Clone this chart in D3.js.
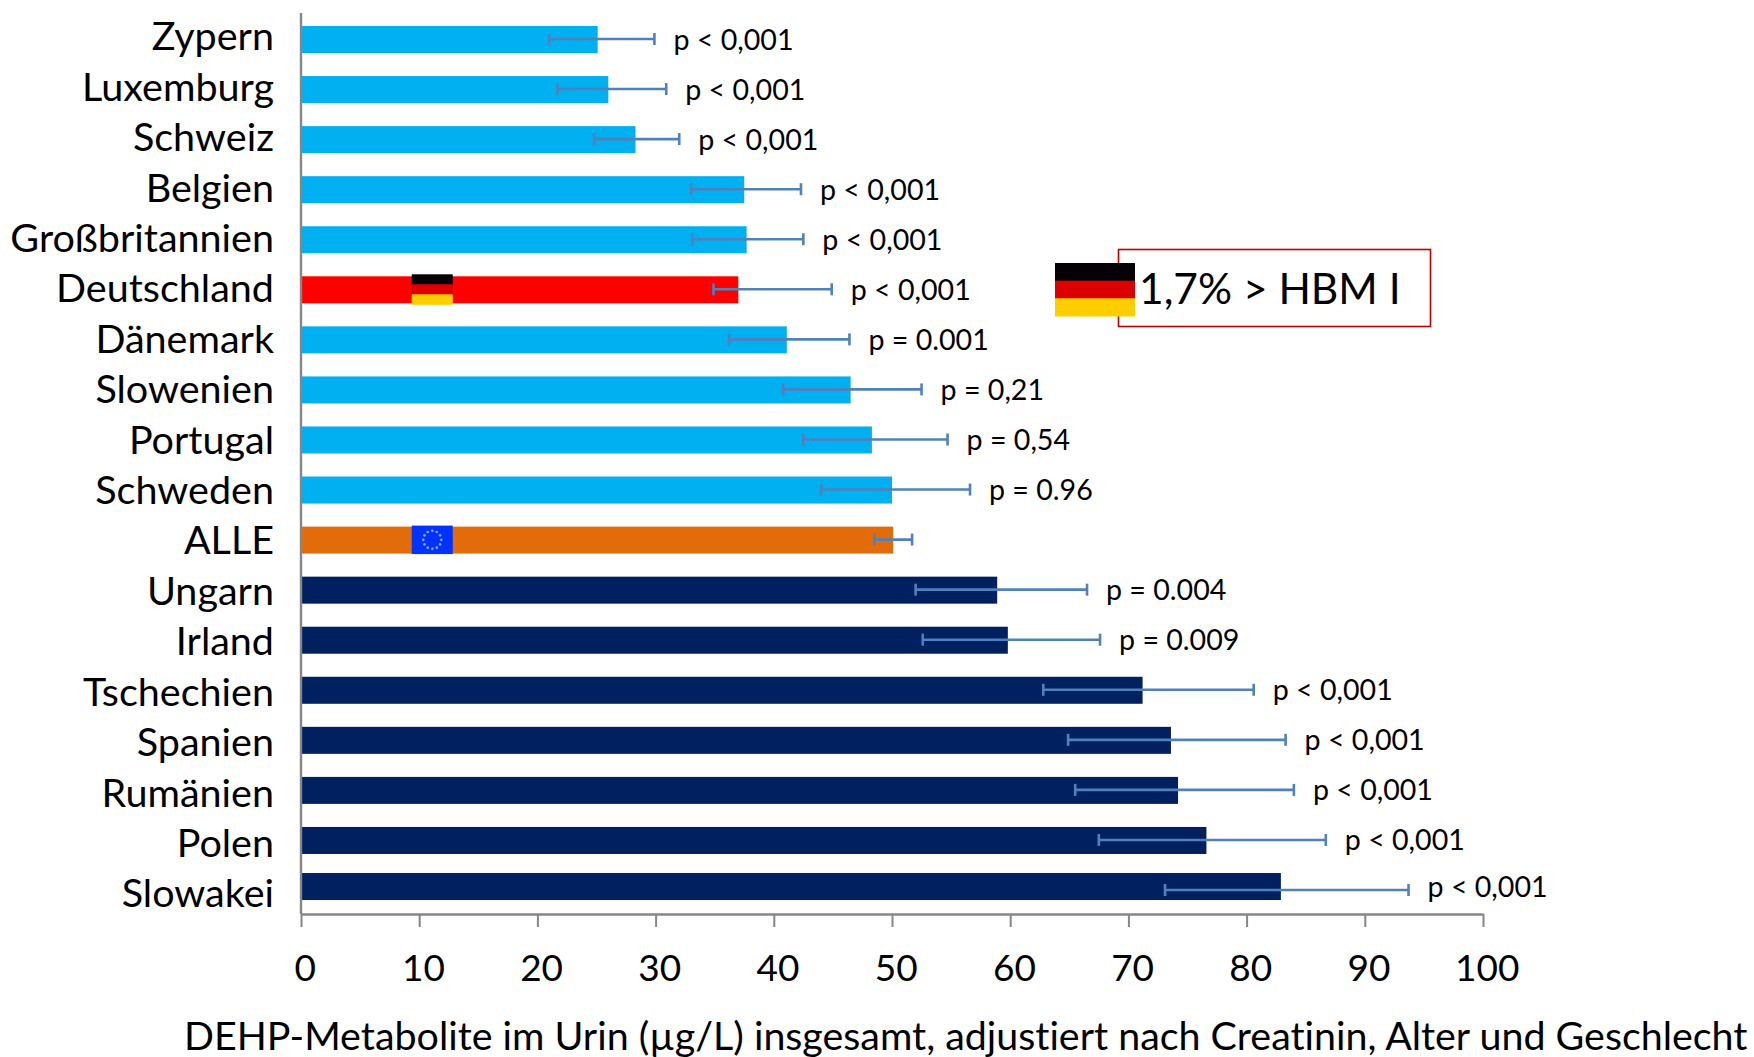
<!DOCTYPE html>
<html>
<head>
<meta charset="utf-8">
<script src="https://cdn.jsdelivr.net/npm/d3@7"></script>
<style>
  html, body { margin: 0; background: #fff; }
  svg { display: block; }
  text { font-family: Lato, "Open Sans", sans-serif; fill: #000; font-variant-ligatures: none; }
</style>
</head>
<body>
<svg></svg>
<script>
// Values
const countries = ["Zypern", "Luxemburg", "Schweiz", "Belgien", "Großbritannien", "Deutschland", "Dänemark", "Slowenien", "Portugal", "Schweden", "ALLE", "Ungarn", "Irland", "Tschechien", "Spanien", "Rumänien", "Polen", "Slowakei"];
const means = [25.1, 26.0, 28.3, 37.5, 37.7, 37.0, 41.1, 46.5, 48.3, 50.0, 50.1, 58.9, 59.8, 71.2, 73.6, 74.2, 76.6, 82.9];
const errLow = [21.0, 21.7, 24.8, 33.0, 33.1, 34.9, 36.2, 40.8, 42.5, 44.0, 48.5, 52.0, 52.6, 62.8, 64.9, 65.5, 67.5, 73.1];
const errHigh = [29.9, 30.9, 32.0, 42.3, 42.5, 44.9, 46.4, 52.5, 54.7, 56.6, 51.7, 66.5, 67.6, 80.6, 83.3, 84.0, 86.7, 93.7];
const pLabels = ["p < 0,001", "p < 0,001", "p < 0,001", "p < 0,001", "p < 0,001", "p < 0,001", "p = 0.001", "p = 0,21", "p = 0,54", "p = 0.96", "", "p = 0.004", "p = 0.009", "p < 0,001", "p < 0,001", "p < 0,001", "p < 0,001", "p < 0,001"];
const xTicks = [0, 10, 20, 30, 40, 50, 60, 70, 80, 90, 100];
const xTitle = "DEHP-Metabolite im Urin (µg/L) insgesamt, adjustiert nach Creatinin, Alter und Geschlecht";
const calloutText = "1,7% > HBM I";
const flagDE = ["#050005", "#dd0000", "#ffce00"];

const width = 1754;
const height = 1057;
const axisY = 914;
const barHeight = 27;

const svg = d3.select("svg")
    .attr("width", width)
    .attr("height", height);

const x = d3.scaleLinear().domain([0, 100]).range([301, 1483]);
const y = d3.scalePoint().domain(countries).range([39.5, 39.5 + 50.06 * 17]);
// the category labels run a little further apart than the bars
const yLabels = d3.scalePoint().domain(countries).range([38, 895]);

function barColor(name, i) {
    if (name === "Deutschland") return "#ff0000";
    if (name === "ALLE") return "#e36c0a";
    return i < 10 ? "#00b0f0" : "#002060";
}

// the last bar sits a bit higher in the original than its whisker
const barShift = name => name === "Slowakei" ? -4 : 0;

const rows = countries.map((name, i) => ({
    name, mean: means[i], low: errLow[i], high: errHigh[i], p: pLabels[i], color: barColor(name, i)
}));

// Bars
svg.selectAll(".bar")
    .data(rows)
    .enter()
    .append("rect")
    .attr("class", "bar")
    .attr("x", x(0))
    .attr("y", d => y(d.name) - barHeight / 2 + barShift(d.name))
    .attr("width", d => x(d.mean) - x(0))
    .attr("height", barHeight)
    .attr("fill", d => d.color);

// Whiskers
const whisker = svg.selectAll(".whisker")
    .data(rows)
    .enter()
    .append("g")
    .attr("class", "whisker")
    .attr("stroke", "#4f81bd")
    .attr("stroke-width", 2.6);

whisker.append("line")
    .attr("x1", d => x(d.low)).attr("x2", d => x(d.high))
    .attr("y1", d => y(d.name) - 0.5).attr("y2", d => y(d.name) - 0.5);
whisker.selectAll(".cap")
    .data(d => [d.low, d.high].map(v => ({ v, name: d.name })))
    .enter()
    .append("line")
    .attr("class", "cap")
    .attr("x1", d => x(d.v)).attr("x2", d => x(d.v))
    .attr("y1", d => y(d.name) - 6.5).attr("y2", d => y(d.name) + 5.5);

// p value labels
svg.selectAll(".p-label")
    .data(rows.filter(d => d.p))
    .enter()
    .append("text")
    .attr("class", "p-label")
    .attr("x", d => x(d.high) + 19)
    .attr("y", d => y(d.name) + barShift(d.name) + 10)
    .style("font-size", "28.6px")
    .text(d => d.p);

// Axes
const yAxis = d3.axisLeft(yLabels).tickSize(0).tickPadding(27);
svg.append("g")
    .attr("class", "y-axis")
    .attr("transform", `translate(${x(0)},0)`)
    .call(yAxis)
    .call(g => g.select(".domain").remove())
    .call(g => g.selectAll("text").style("font-size", "39.5px").attr("dy", "0.3em"));

svg.append("line")
    .attr("x1", x(0)).attr("x2", x(0))
    .attr("y1", 13).attr("y2", axisY)
    .attr("stroke", "#868686").attr("stroke-width", 2.4);

const xAxis = d3.axisBottom(x).tickValues(xTicks).tickSize(13).tickPadding(28).tickSizeOuter(0);
svg.append("g")
    .attr("class", "x-axis")
    .attr("transform", `translate(0,${axisY})`)
    .call(xAxis)
    .call(g => g.select(".domain").attr("stroke", "#868686").attr("stroke-width", 2.4))
    .call(g => g.selectAll("line").attr("stroke", "#868686").attr("stroke-width", 2))
    .call(g => g.selectAll("text").style("font-size", "37px").attr("dx", "0.1em"));

svg.append("text")
    .attr("x", 184)
    .attr("y", 1050)
    .style("font-size", "39.4px")
    .text(xTitle);

// German flag on the bar, big flag + callout box
function drawFlag(fx, fy, fw, fh) {
    svg.selectAll(null)
        .data(flagDE)
        .enter()
        .append("rect")
        .attr("x", fx)
        .attr("y", (d, i) => fy + i * fh / 3)
        .attr("width", fw)
        .attr("height", fh / 3 + 0.5)
        .attr("fill", d => d);
}

drawFlag(x(9.37), y("Deutschland") - 15.5, 41, 30);

// EU flag on the ALLE bar
const euX = x(9.37), euY = y("ALLE") - 14.5, euW = 41, euH = 28.5;
svg.append("rect")
    .attr("x", euX).attr("y", euY)
    .attr("width", euW).attr("height", euH)
    .attr("fill", "#0033ff");
svg.selectAll(".star")
    .data(d3.range(12))
    .enter()
    .append("circle")
    .attr("class", "star")
    .attr("cx", i => euX + euW / 2 + 9 * Math.sin(i * Math.PI / 6))
    .attr("cy", i => euY + euH / 2 - 9 * Math.cos(i * Math.PI / 6))
    .attr("r", 1.3)
    .attr("fill", "#8fa6e0");

svg.append("rect")
    .attr("x", 1118.5).attr("y", 249.5)
    .attr("width", 312).attr("height", 77)
    .attr("fill", "#fff")
    .attr("stroke", "#c00000").attr("stroke-width", 1.6);
drawFlag(1055, 263, 80, 53);
svg.append("text")
    .attr("x", 1139)
    .attr("y", 304)
    .style("font-size", "42.5px")
    .text(calloutText);
</script>
</body>
</html>
